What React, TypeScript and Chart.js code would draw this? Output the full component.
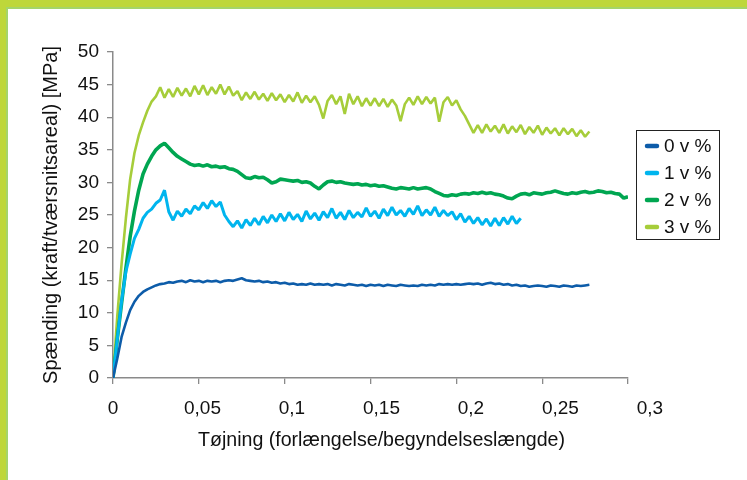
import React, { useEffect, useRef } from "react";
import { Chart, registerables } from "chart.js";

Chart.register(...registerables);

// Strain grid (x values)
const STRAIN = [
  0, 0.0025, 0.005, 0.0075, 0.01, 0.0125, 0.015, 0.0175, 0.02, 0.0225,
  0.025, 0.0275, 0.03, 0.0325, 0.035, 0.0375, 0.04, 0.0425, 0.045, 0.0475,
  0.05, 0.0525, 0.055, 0.0575, 0.06, 0.0625, 0.065, 0.0675, 0.07, 0.0725,
  0.075, 0.0775, 0.08, 0.0825, 0.085, 0.0875, 0.09, 0.0925, 0.095, 0.0975,
  0.1, 0.1025, 0.105, 0.1075, 0.11, 0.1125, 0.115, 0.1175, 0.12, 0.1225,
  0.125, 0.1275, 0.13, 0.1325, 0.135, 0.1375, 0.14, 0.1425, 0.145, 0.1475,
  0.15, 0.1525, 0.155, 0.1575, 0.16, 0.1625, 0.165, 0.1675, 0.17, 0.1725,
  0.175, 0.1775, 0.18, 0.1825, 0.185, 0.1875, 0.19, 0.1925, 0.195, 0.1975,
  0.2, 0.2025, 0.205, 0.2075, 0.21, 0.2125, 0.215, 0.2175, 0.22, 0.2225,
  0.225, 0.2275, 0.23, 0.2325, 0.235, 0.2375, 0.24, 0.2425, 0.245, 0.2475,
  0.25, 0.2525, 0.255, 0.2575, 0.26, 0.2625, 0.265, 0.2675, 0.27, 0.2725,
  0.275, 0.2775, 0.28, 0.2825, 0.285, 0.2875, 0.29, 0.2925, 0.295, 0.2975,
  0.3,
];

const SERIES_LABELS = ["0 v %", "1 v %", "2 v %", "3 v %"];
const SERIES_COLORS = ["#0D5CA9", "#00B5EE", "#00A651", "#A6CD3A"];

// Stress [MPa] — 0 v %
const V0 = [
  0, 3.0, 6.3, 8.5, 10.4, 11.7, 12.6, 13.2, 13.6, 13.9,
  14.2, 14.4, 14.5, 14.7, 14.6, 14.8, 14.9, 14.7, 15.0, 14.8,
  14.9, 14.7, 14.9, 14.8, 14.9, 14.7, 14.9, 15.0, 14.9, 15.1,
  15.3, 15.0, 14.9, 14.8, 14.9, 14.7, 14.8, 14.6, 14.7, 14.5,
  14.6, 14.4, 14.5, 14.3, 14.4, 14.3, 14.5, 14.3, 14.4, 14.3,
  14.4, 14.2, 14.4, 14.3, 14.2, 14.4, 14.3, 14.2, 14.3, 14.1,
  14.3, 14.2, 14.3, 14.1, 14.3, 14.2, 14.1, 14.3, 14.2, 14.1,
  14.2, 14.1, 14.3, 14.2, 14.3, 14.2, 14.4, 14.3, 14.4, 14.3,
  14.4, 14.3, 14.4, 14.5, 14.4, 14.5, 14.3, 14.5, 14.6, 14.4,
  14.5, 14.3, 14.4, 14.2, 14.3, 14.1, 14.2, 14.0, 14.1, 14.2,
  14.1, 14.0, 14.2, 14.1, 14.0, 14.2, 14.1, 14.0, 14.2, 14.1,
  14.2, 14.3,
];

// Stress [MPa] — 1 v %
const V1 = [
  0, 6.0, 11.8, 16.3, 19.0, 21.4, 22.8, 24.5, 25.4, 25.9,
  26.8, 27.3, 28.8, 25.5, 24.2, 25.6, 24.8, 25.9, 25.2, 26.4,
  25.8, 26.9, 26.0, 27.2, 26.3, 27.0, 25.0, 24.0, 23.2, 24.1,
  23.0, 24.3, 23.4, 24.5, 23.5, 24.8, 23.8, 25.0, 24.0, 25.2,
  24.1, 25.4, 24.3, 25.1, 24.0, 25.6, 24.4, 25.3, 24.2, 25.5,
  24.6, 26.0, 24.5, 25.4, 24.3, 25.7, 24.6, 25.4, 24.7, 26.1,
  24.8, 25.6, 24.5, 25.9, 24.9, 26.2, 25.0, 25.7, 24.8, 26.0,
  25.1, 26.4, 24.9, 25.8, 25.0, 26.2, 24.8, 25.7, 24.9, 25.5,
  24.3, 25.2, 23.9, 24.8, 23.7, 24.6, 23.5, 24.4, 23.3, 24.5,
  23.4, 24.6, 23.6, 24.8, 23.7, 24.5,
];

// Stress [MPa] — 2 v %
const V2 = [
  0, 6.0, 11.5, 16.8, 21.7, 25.6, 28.8, 31.3, 32.8, 34.0,
  35.0, 35.6, 36.0, 35.3, 34.6, 34.0, 33.6, 33.2, 32.8, 32.6,
  32.7, 32.5, 32.7, 32.4, 32.5, 32.3, 32.4, 32.1, 32.0, 31.7,
  31.2, 30.7, 30.6, 30.9, 30.7, 30.8, 30.4, 29.9, 30.1, 30.5,
  30.4, 30.3, 30.2, 30.3, 30.0, 30.1, 29.9, 29.4, 29.0, 29.6,
  30.1, 30.2, 30.0, 30.1, 29.9, 29.8, 29.7, 29.8, 29.6, 29.7,
  29.5, 29.6, 29.4, 29.5, 29.3, 29.1, 29.0, 29.2, 29.1, 29.0,
  29.2, 29.0, 29.1, 29.2, 29.0, 28.6, 28.3, 28.0, 27.9, 28.1,
  28.0, 28.2, 28.3, 28.2, 28.4, 28.3, 28.5, 28.3, 28.4, 28.2,
  28.1, 27.9, 27.6, 27.5, 27.9, 28.2, 28.3, 28.1, 28.4, 28.3,
  28.2, 28.4, 28.5, 28.7, 28.5, 28.3, 28.2, 28.4, 28.3, 28.5,
  28.6, 28.4, 28.5, 28.7, 28.6, 28.4, 28.5, 28.3, 28.2, 27.6,
  27.8,
];

// Stress [MPa] — 3 v %
const V3 = [
  0, 9.5, 17.5, 24.5, 30.5, 34.5, 37.2, 39.2, 41.0, 42.4,
  43.2, 44.6, 43.0, 44.3, 43.1, 44.5, 43.3, 44.4, 43.2, 44.8,
  43.5, 44.9, 43.4, 44.6, 43.6, 45.0, 43.5, 44.7, 43.3, 44.0,
  42.6, 43.8, 42.8, 43.9, 42.7, 43.6, 42.5, 43.7, 42.6, 43.5,
  42.3, 43.4, 42.4, 43.8, 42.2, 43.3, 42.3, 43.2, 41.9, 39.8,
  42.5, 43.4, 42.0, 43.2, 40.5, 43.6, 42.0, 43.2, 41.7, 42.9,
  41.8, 42.9, 41.7, 42.8, 41.6, 42.7, 41.8, 39.4, 42.0, 43.0,
  41.9, 43.2, 42.0, 43.1, 42.1, 43.0, 39.3, 42.3, 43.1, 41.8,
  42.6, 41.2, 40.2, 38.9, 37.6, 38.8, 37.6, 38.9, 37.8, 38.7,
  37.6, 38.9, 37.5, 38.6, 37.7, 38.8, 37.4, 38.5, 37.6, 38.7,
  37.3, 38.4, 37.5, 38.3, 37.2, 38.3, 37.4, 38.2, 37.1, 38.0,
  37.0, 37.8,
];

const SERIES_VALUES = [V0, V1, V2, V3];
const SERIES_WIDTHS = [2.6, 3, 3.6, 2.6];

const X_TICKS = [0, 0.05, 0.1, 0.15, 0.2, 0.25, 0.3];
const X_TICK_LABELS = ["0", "0,05", "0,1", "0,15", "0,2", "0,25", "0,3"];
const Y_TITLE = "Spænding (kraft/tværsnitsareal) [MPa]";
const X_TITLE = "Tøjning (forlængelse/begyndelseslængde)";

const FONT = '"Liberation Sans", Arial, sans-serif';
const TEXT_STRETCH = 1.0426;

const overlayPlugin = {
  id: "overlay",
  afterDraw(chart: any) {
    const ctx = chart.ctx;
    const xs = chart.scales.x;
    const left = xs.left;
    ctx.save();
    // x tick labels
    ctx.fillStyle = "#111";
    ctx.font = `19px ${FONT}`;
    ctx.textAlign = "center";
    ctx.textBaseline = "middle";
    X_TICKS.forEach((v, i) => {
      const px = xs.getPixelForValue(v);
      ctx.fillText(X_TICK_LABELS[i], left + (px - left) * TEXT_STRETCH, xs.top + 31);
    });
    // x title
    ctx.font = `19.6px ${FONT}`;
    const mid = (xs.left + xs.right) / 2;
    ctx.fillText(X_TITLE, left + (mid - left) * TEXT_STRETCH, xs.top + 63);

    // legend
    const bx = 636.5, by = 130.5, bw = 83, bh = 109;
    ctx.strokeStyle = "#222";
    ctx.lineWidth = 1;
    ctx.strokeRect(bx, by, bw, bh);
    const rows = [146, 173, 200, 227];
    ctx.textAlign = "left";
    ctx.font = `19px ${FONT}`;
    chart.data.datasets.forEach((ds: any, i: number) => {
      const y = rows[i];
      ctx.strokeStyle = ds.borderColor;
      ctx.lineWidth = 4.5;
      ctx.lineCap = "round";
      ctx.beginPath();
      ctx.moveTo(647, y);
      ctx.lineTo(657, y);
      ctx.stroke();
      ctx.fillStyle = "#111";
      ctx.fillText(ds.label, 664, y + 1);
    });
    ctx.restore();
  },
};

export default function App() {
  const ref = useRef<HTMLCanvasElement | null>(null);

  useEffect(() => {
    if (!ref.current) return;
    const datasets = SERIES_LABELS.map((label, s) => ({
      label,
      data: SERIES_VALUES[s].map((y, i) => ({ x: STRAIN[i], y })),
      borderColor: SERIES_COLORS[s],
      backgroundColor: SERIES_COLORS[s],
      borderWidth: SERIES_WIDTHS[s],
      borderJoinStyle: "bevel" as const,
      pointRadius: 0,
      tension: 0,
      fill: false,
    }));
    const chart = new Chart(ref.current, {
      type: "line",
      data: { datasets },
      options: {
        animation: false,
        responsive: false,
        events: [],
        layout: { padding: { top: 52, right: 119, left: 0, bottom: 0 } },
        plugins: { legend: { display: false }, tooltip: { enabled: false } },
        scales: {
          x: {
            type: "linear",
            min: 0,
            max: 0.3,
            ticks: { display: false, stepSize: 0.05 },
            grid: { drawOnChartArea: false, drawTicks: true, tickLength: 6, color: "#8a8a8a", lineWidth: 1.3 },
            border: { display: true, color: "#8a8a8a", width: 1.5 },
            afterFit: (s: any) => { s.height = 102; },
          },
          y: {
            min: 0,
            max: 50,
            ticks: {
              stepSize: 5,
              padding: 8,
              color: "#111",
              font: { family: FONT, size: 19 },
            },
            grid: { drawOnChartArea: false, drawTicks: true, tickLength: 6, color: "#8a8a8a", lineWidth: 1.3 },
            border: { display: true, color: "#8a8a8a", width: 1.5 },
            title: {
              display: true,
              text: Y_TITLE,
              color: "#111",
              font: { family: FONT, size: 20 },
              padding: { top: 39, bottom: 0 },
            },
            afterFit: (s: any) => { s.width = 113; },
          },
        },
      },
      plugins: [overlayPlugin],
    });
    return () => chart.destroy();
  }, []);

  return (
    <div style={{ position: "absolute", left: 0, top: 0, width: 747, height: 480, background: "#fff", overflow: "hidden" }}>
      <div style={{ position: "absolute", left: 0, top: 0, width: 747, height: 7, background: "#BED73A" }} />
      <div style={{ position: "absolute", left: 8, top: 7, width: 739, height: 2, background: "#A4D56A" }} />
      <div style={{ position: "absolute", left: 0, top: 0, width: 6, height: 480, background: "#BED73A" }} />
      <div style={{ position: "absolute", left: 6, top: 7, width: 2, height: 473, background: "#A4D56A" }} />
      <canvas ref={ref} width={747} height={480} style={{ position: "absolute", left: 0, top: 0 }} />
    </div>
  );
}
